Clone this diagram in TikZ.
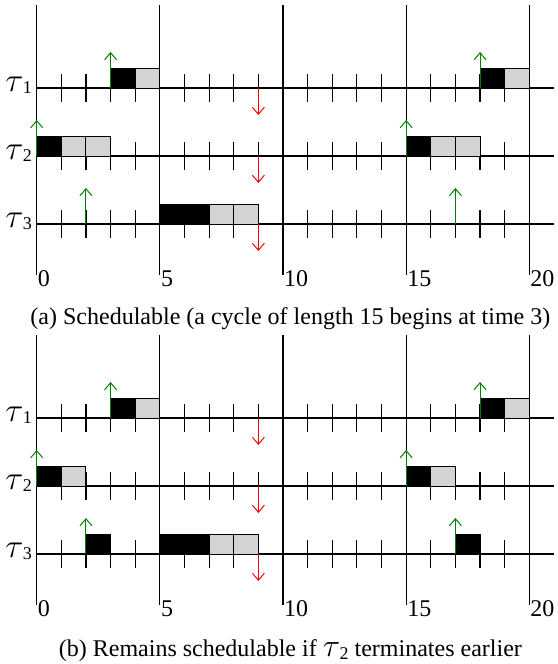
\documentclass[tikz,border=0pt]{standalone}
\usepackage{graphicx}
\usepackage{fontspec}
\setmainfont{Liberation Serif}
\usetikzlibrary{arrows.meta}
\definecolor{relgreen}{RGB}{0,128,0}
\definecolor{cellgray}{RGB}{211,211,211}
\newcommand{\bigtau}[1]{\scalebox{#1}{$\tau$}}
\newcommand{\tsk}[1]{\bigtau{1.35}\kern-0.5pt\raisebox{-2.5pt}{\fontsize{18}{18}\selectfont #1}}
\newcommand{\cellat}[3]{\filldraw[#3] (#1,#2) rectangle ++(1,-19.5);}
\newcommand{\relat}[2]{\draw[rel] (#1,#2) -- ++(0,-36);}
\newcommand{\panelbase}{%
  \foreach \t in {0,5,...,20} {
    \draw[ln] (\t,5) -- (\t,275);
    \node[anchor=base west] (lab\t) at (\t+0.04,286) {\t};
  }
  \foreach \r/\Y in {1/88,2/156,3/224} {
    \draw[ln] (0,\Y) -- (21,\Y);
    \foreach \t in {1,...,20} \draw[ln] (\t,\Y-14) -- (\t,\Y+14);
    \node[anchor=base east] (task\r) at (-0.19,\Y+3) {\tsk{\r}};
  }
}
\newcommand{\panelarrows}{%
  \foreach \Y in {88,156,224} \draw[dl] (9,\Y) -- ++(0,27);
  \relat{3}{88}\relat{18}{88}
  \relat{0}{156}\relat{15}{156}
  \relat{2}{224}\relat{17}{224}
}
\begin{document}
\begin{tikzpicture}[x=24.63pt, y=-1pt,
  every node/.style={font=\fontsize{24}{28}\selectfont, inner sep=0pt},
  ln/.style={line width=1.1pt, black},
  bk/.style={fill=black, draw=black, line width=1pt},
  gy/.style={fill=cellgray, draw=black, line width=1pt},
  rel/.style={relgreen, line width=1pt, -{Straight Barb[length=7pt,width=12pt]}},
  dl/.style={red, line width=1pt, -{Straight Barb[length=7pt,width=12pt]}}]
\useasboundingbox (-1.49,0) rectangle (21.125,664);
% ---- panel (a)
\begin{scope}
  \panelbase
  \cellat{3}{88}{bk}\cellat{4}{88}{gy}\cellat{18}{88}{bk}\cellat{19}{88}{gy}
  \cellat{0}{156}{bk}\cellat{1}{156}{gy}\cellat{2}{156}{gy}
  \cellat{15}{156}{bk}\cellat{16}{156}{gy}\cellat{17}{156}{gy}
  \cellat{5}{224}{bk}\cellat{6}{224}{bk}\cellat{7}{224}{gy}\cellat{8}{224}{gy}
  \panelarrows
\end{scope}
\node[anchor=base] (capa) at (10.3,324) {(a) Schedulable (a cycle of length 15 begins at time 3)};
% ---- panel (b)
\begin{scope}[yshift=-330pt]
  \panelbase
  \cellat{3}{88}{bk}\cellat{4}{88}{gy}\cellat{18}{88}{bk}\cellat{19}{88}{gy}
  \cellat{0}{156}{bk}\cellat{1}{156}{gy}
  \cellat{15}{156}{bk}\cellat{16}{156}{gy}
  \cellat{2}{224}{bk}
  \cellat{5}{224}{bk}\cellat{6}{224}{bk}\cellat{7}{224}{gy}\cellat{8}{224}{gy}
  \cellat{17}{224}{bk}
  \panelarrows
\end{scope}
\node[anchor=base] (capb) at (10.3,656) {(b) Remains schedulable if \bigtau{1.3}\kern-0.5pt\raisebox{-3pt}{\fontsize{18}{18}\selectfont 2} terminates earlier};
\end{tikzpicture}
\end{document}
